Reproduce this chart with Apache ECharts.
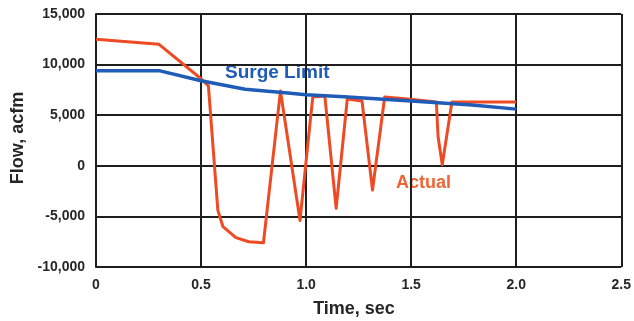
<!DOCTYPE html>
<html>
<head>
<meta charset="utf-8">
<script src="https://cdn.jsdelivr.net/npm/echarts@6/dist/echarts.min.js"></script>
<style>html,body{margin:0;padding:0;background:#fff;}#c{width:634px;height:321px;}</style>
</head>
<body>
<div id="c"></div>
<script>
// Data
var surgeTime  = [0, 0.30, 0.50, 0.71, 0.90, 1.00, 1.18, 1.50, 1.79, 2.00];
var surgeFlow  = [9400, 9400, 8400, 7560, 7230, 7030, 6830, 6400, 6000, 5600];

var actualTime = [0, 0.30, 0.50, 0.535, 0.58, 0.604, 0.666, 0.727, 0.797, 0.804, 0.878, 0.971, 1.02, 1.032, 1.089, 1.143, 1.196, 1.266, 1.316, 1.374, 1.484, 1.62, 1.628, 1.648, 1.694, 2.00];
var actualFlow = [12500, 12000, 8600, 7900, -4400, -6000, -7100, -7500, -7600, -7500, 7400, -5400, 4500, 6800, 6900, -4200, 6600, 6400, -2400, 6800, 6600, 6300, 2900, 100, 6300, 6300];

var xTickLabels = ['0', '0.5', '1.0', '1.5', '2.0', '2.5'];
var yTickLabels = ['-10,000', '-5,000', '0', '5,000', '10,000', '15,000'];
var xTitle = 'Time, sec';
var yTitle = 'Flow, acfm';
var surgeName = 'Surge Limit';
var actualName = 'Actual';

function zip(a, b) { return a.map(function (v, i) { return [v, b[i]]; }); }

var chart = echarts.init(document.getElementById('c'), null, {renderer: 'canvas'});
var gridCol = '#1e1e1e';
var txtCol = '#262626';
var redCol = '#EE4A24';
var blueCol = '#1F5CB8';

chart.setOption({
  animation: false,
  backgroundColor: '#ffffff',
  grid: {left: 96, right: 11, top: 14, bottom: 54, containLabel: false},
  xAxis: {
    type: 'value', min: 0, max: 2.5, interval: 0.5,
    axisLine: {show: true, lineStyle: {color: gridCol, width: 2}},
    axisTick: {show: false},
    splitLine: {show: true, lineStyle: {color: gridCol, width: 2}},
    axisLabel: {
      margin: 11, color: txtCol, fontFamily: 'Liberation Sans, Arial', fontWeight: 'bold', fontSize: 14,
      formatter: function (v) { return xTickLabels[Math.round(v / 0.5)]; }
    }
  },
  yAxis: {
    type: 'value', min: -10000, max: 15000, interval: 5000,
    axisLine: {show: true, onZero: false, lineStyle: {color: gridCol, width: 2}},
    axisTick: {show: false},
    splitLine: {show: true, lineStyle: {color: gridCol, width: 2}},
    axisLabel: {
      margin: 11, color: txtCol, fontFamily: 'Liberation Sans, Arial', fontWeight: 'bold', fontSize: 14,
      formatter: function (v) { return yTickLabels[Math.round((v + 10000) / 5000)]; }
    }
  },
  series: [
    {
      name: actualName, type: 'line', showSymbol: false, smooth: false, z: 3,
      lineStyle: {color: redCol, width: 3, join: 'round'},
      data: zip(actualTime, actualFlow)
    },
    {
      name: surgeName, type: 'line', showSymbol: false, smooth: false, z: 4,
      lineStyle: {color: blueCol, width: 3.5, join: 'round'},
      data: zip(surgeTime, surgeFlow)
    }
  ],
  graphic: [
    {type: 'text', left: 225, top: 63, style: {text: surgeName, fill: blueCol, font: 'bold 19px "Liberation Sans", Arial'}},
    {type: 'text', left: 396, top: 174, style: {text: actualName, fill: '#EE6434', font: 'bold 18px "Liberation Sans", Arial'}},
    {type: 'text', x: 354, y: 309, style: {text: xTitle, fill: txtCol, font: 'bold 18px "Liberation Sans", Arial', align: 'center', verticalAlign: 'middle'}},
    {type: 'text', x: 18, y: 138, rotation: Math.PI / 2, style: {text: yTitle, fill: txtCol, font: 'bold 18px "Liberation Sans", Arial', align: 'center', verticalAlign: 'middle'}}
  ]
});
</script>
</body>
</html>
